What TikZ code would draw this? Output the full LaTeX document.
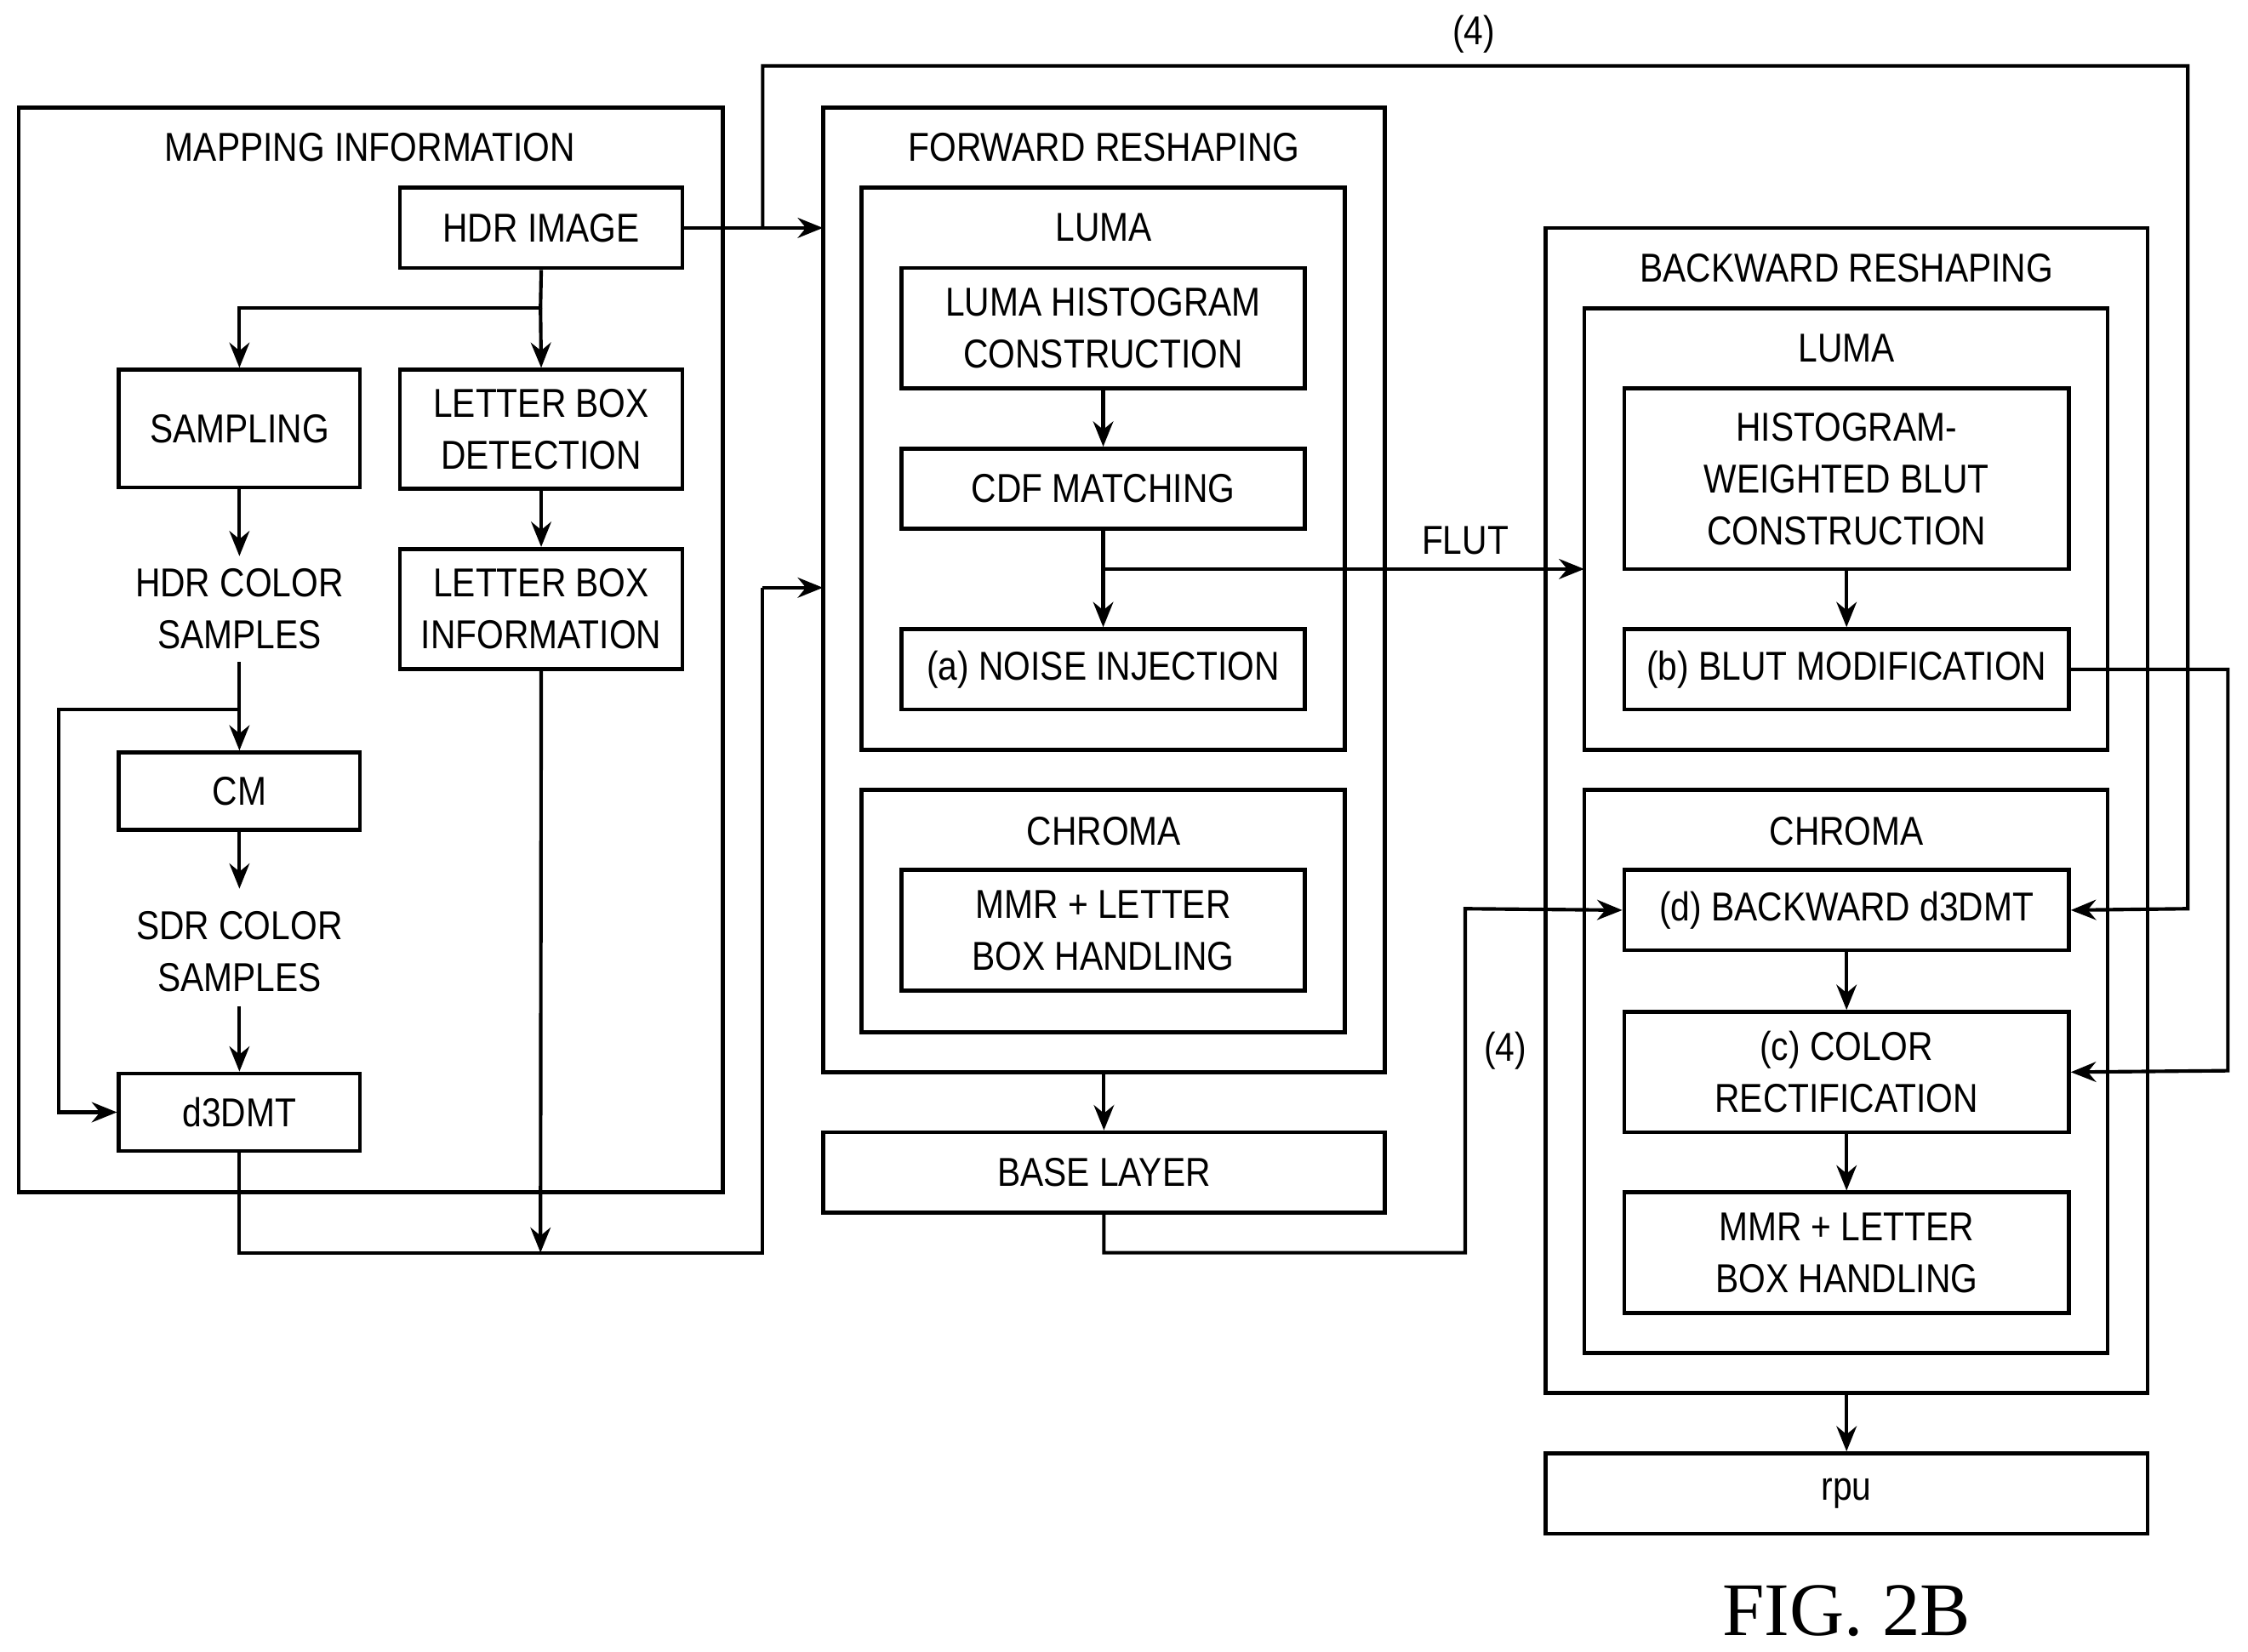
\documentclass[tikz,border=0pt]{standalone}
\usepackage{fontspec}
\setmainfont[FakeStretch=0.86]{Liberation Sans}
\newfontfamily\figfont{Liberation Serif}
\usetikzlibrary{arrows.meta}
\tikzset{
  bx/.style={draw,line width=0.8pt,inner sep=0pt,align=center,font=\fontsize{8}{10.3}\selectfont},
  lbl/.style={align=center,font=\fontsize{8}{10.3}\selectfont,inner sep=1pt},
  ln/.style={line width=0.7pt},
  ar/.style={line width=0.7pt,-{Stealth[length=5pt,width=4pt]}}
}
\newcommand{\bx}[6]{\node[bx,minimum width={(#4-#2)*0.01cm},minimum height={(#5-#3)*0.01cm}] (#1) at ({(#2+#4)/2},{(#3+#5)/2}) {#6};}
\begin{document}
\begin{tikzpicture}[x=0.01cm,y=-0.01cm]
\useasboundingbox (0,0) rectangle (1568,1152);
% mapping info
\bx{mi}{13}{75}{504}{832}{}
\node[lbl] (mit) at (258,103) {MAPPING INFORMATION};
\bx{hdr}{279}{131}{476}{187}{HDR IMAGE}
\bx{samp}{83}{258}{251}{340}{SAMPLING}
\bx{lbd}{279}{258}{476}{341}{LETTER BOX\\DETECTION}
\bx{lbi}{279}{383}{476}{467}{LETTER BOX\\INFORMATION}
\node[lbl] (hcs) at (167,425) {HDR COLOR\\SAMPLES};
\bx{cm}{83}{525}{251}{579}{CM}
\node[lbl] (scs) at (167,664) {SDR COLOR\\SAMPLES};
\bx{d3}{83}{749}{251}{803}{d3DMT}
\coordinate (br) at (377,215);
\draw[ln] (hdr.south) -- (br);
\draw[ar] (br) -| (samp.north);
\draw[ar] (br) -- (lbd.north);
\draw[ar] (samp.south) -- (167,388);
\draw[ar] (lbd.south) -- (lbi.north);
\draw[ar] (167,462) -- (cm.north);
\draw[ar] (cm.south) -- (167,620);
\draw[ar] (167,702) -- (d3.north);
\coordinate (lp) at (167,495);
\draw[ar] (lp) -- (41,495) -- (41,776) -- (d3.west);
\coordinate (j1) at (377,874);
\draw[ar] (lbi.south) -- (j1);
\draw[ln] (d3.south) -- (167,874) -- (j1) -- (532,874) -- (532,410);
% forward reshaping
\bx{fr}{574}{75}{966}{748}{}
\node[lbl] at (770,103) {FORWARD RESHAPING};
\draw[ar] (532,410) -- (574,410);
\draw[ar] (hdr.east) -- (574,159);
\bx{fl}{601}{131}{938}{523}{}
\node[lbl] at (770,159) {LUMA};
\bx{lhc}{629}{187}{910}{271}{LUMA HISTOGRAM\\CONSTRUCTION}
\bx{cdf}{629}{313}{910}{369}{CDF MATCHING}
\bx{ni}{629}{439}{910}{495}{(a) NOISE INJECTION}
\draw[ar] (lhc.south) -- (cdf.north);
\draw[ar] (cdf.south) -- (ni.north);
\bx{fc}{601}{551}{938}{720}{}
\node[lbl] at (770,580) {CHROMA};
\bx{mmr1}{629}{607}{910}{691}{MMR + LETTER\\BOX HANDLING}
\bx{base}{574}{790}{966}{846}{BASE LAYER}
\draw[ar] (770,748) -- (base.north);
% backward reshaping
\bx{brs}{1078}{159}{1498}{972}{}
\node[lbl] at (1288,187) {BACKWARD RESHAPING};
\bx{bl}{1105}{215}{1470}{523}{}
\node[lbl] at (1288,243) {LUMA};
\bx{hw}{1133}{271}{1443}{397}{HISTOGRAM-\\WEIGHTED BLUT\\CONSTRUCTION}
\bx{bm}{1133}{439}{1443}{495}{(b) BLUT MODIFICATION}
\draw[ar] (hw.south) -- (bm.north);
\bx{bc}{1105}{551}{1470}{944}{}
\node[lbl] at (1288,580) {CHROMA};
\bx{bd}{1133}{607}{1443}{663}{(d) BACKWARD d3DMT}
\bx{cr}{1133}{706}{1443}{790}{(c) COLOR\\RECTIFICATION}
\bx{mmr2}{1133}{832}{1443}{916}{MMR + LETTER\\BOX HANDLING}
\draw[ar] (bd.south) -- (cr.north);
\draw[ar] (cr.south) -- (mmr2.north);
\bx{rpu}{1078}{1014}{1498}{1070}{rpu}
\draw[ar] (1288,972) -- (rpu.north);
% cross connections
\draw[ar] (770,397) -- (1105,397);
\node[lbl] at (1022,377) {FLUT};
\draw[ar] (bm.east) -- (1554,467) -- (1554,747) -- (cr.east);
\draw[ar] (532,159) -- (532,46) -- (1526,46) -- (1526,634) -- (bd.east);
\node[lbl] at (1028,24) {(4)};
\draw[ar] (base.south) -- (770,874) -- (1022,874) -- (1022,634) -- (bd.west);
\node[lbl] at (1050,733) {(4)};
\node[font=\figfont\fontsize{15}{18}\selectfont] at (1288,1124) {FIG. 2B};
\end{tikzpicture}
\end{document}
